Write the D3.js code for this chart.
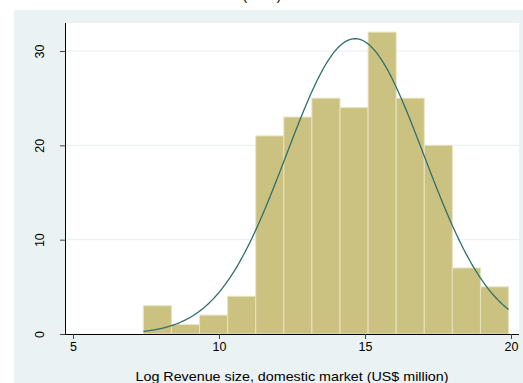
<!DOCTYPE html>
<html>
<head>
<meta charset="utf-8">
<script src="https://cdn.jsdelivr.net/npm/d3@7"></script>
<style>
  html, body { margin: 0; padding: 0; background: #ffffff; }
  svg { display: block; font-family: "Liberation Sans", Arial, sans-serif; }
</style>
</head>
<body>
<svg id="chart" width="523" height="383"></svg>
<script>
// Histogram of log revenue (frequency) with a fitted normal density
const binStart = 7.41;
const binWidth = 0.962;
const counts = [3, 1, 2, 4, 21, 23, 25, 24, 32, 25, 20, 7, 5];
const fitMean = 14.66;
const fitSd = 2.354;
const xTicks = [5, 10, 15, 20];
const yTicks = [0, 10, 20, 30];
const titleText = "(Total)";
const xTitle = "Log Revenue size, domestic market (US$ million)";

const svg = d3.select("#chart");
const W = 523, H = 383;

// graph region
svg.append("rect").attr("x", 14).attr("y", 10).attr("width", W - 14).attr("height", H - 10)
  .attr("fill", "#eaf2f3");
// plot region
const plot = { left: 65, right: 519, top: 23, bottom: 334 };
svg.append("rect").attr("x", plot.left).attr("y", plot.top)
  .attr("width", plot.right - plot.left).attr("height", plot.bottom - plot.top)
  .attr("fill", "#ffffff");

svg.append("text").attr("x", 262).attr("y", 0).attr("text-anchor", "middle")
  .attr("font-size", 14).attr("fill", "#000").text(titleText);

const x = d3.scaleLinear().domain([5, 20]).range([73, 511]);
const y = d3.scaleLinear().domain([0, 30]).range([334, 51]);

// horizontal grid
svg.append("g").selectAll("line").data(yTicks.filter(d => d > 0)).join("line")
  .attr("x1", plot.left).attr("x2", plot.right)
  .attr("y1", d => y(d)).attr("y2", d => y(d))
  .attr("stroke", "#e7eff1").attr("stroke-width", 1);

// bars
const bins = counts.map((c, i) => ({ x0: binStart + i * binWidth, x1: binStart + (i + 1) * binWidth, n: c }));
svg.append("g").selectAll("rect").data(bins).join("rect")
  .attr("x", d => x(d.x0)).attr("width", d => x(d.x1) - x(d.x0))
  .attr("y", d => y(d.n)).attr("height", d => y(0) - y(d.n))
  .attr("fill", "#cbc282").attr("stroke", "#e8e3bf").attr("stroke-width", 1);

// normal density scaled to frequency
const scaleN = d3.sum(counts) * binWidth;
const xEnd = binStart + counts.length * binWidth;
const curvePts = d3.range(0, 301).map(i => {
  const v = binStart + (xEnd - binStart) * i / 300;
  const z = (v - fitMean) / fitSd;
  return [v, scaleN * Math.exp(-0.5 * z * z) / (fitSd * Math.sqrt(2 * Math.PI))];
});
svg.append("path").datum(curvePts)
  .attr("d", d3.line().x(d => x(d[0])).y(d => y(d[1])))
  .attr("fill", "none").attr("stroke", "#2f706c").attr("stroke-width", 1.3);

// y axis
const yAxis = svg.append("g").attr("transform", `translate(${plot.left},0)`)
  .call(d3.axisLeft(y).tickValues(yTicks).tickSize(5).tickSizeOuter(0).tickPadding(3));
yAxis.select(".domain").attr("d", `M0.5,${plot.top}V${plot.bottom}`).attr("stroke", "#000");
yAxis.selectAll(".tick line").attr("stroke", "#444");
yAxis.selectAll(".tick text")
  .attr("font-size", 12.5).attr("fill", "#000")
  .attr("text-anchor", "middle")
  .attr("dy", "0")
  .attr("font-family", "Liberation Sans, Arial, sans-serif")
  .attr("transform", "translate(-21,0) rotate(-90)")
  .attr("x", 0).attr("y", 0);

// x axis
const xAxis = svg.append("g").attr("transform", `translate(0,${plot.bottom})`)
  .call(d3.axisBottom(x).tickValues(xTicks).tickSize(5).tickSizeOuter(0).tickPadding(3));
xAxis.select(".domain").attr("d", `M${plot.left},0.5H${plot.right}`).attr("stroke", "#000");
xAxis.selectAll(".tick line").attr("stroke", "#444");
xAxis.selectAll(".tick text").attr("font-size", 12.5).attr("fill", "#000")
  .attr("font-family", "Liberation Sans, Arial, sans-serif");

svg.append("text").attr("x", (plot.left + plot.right) / 2).attr("y", 380.5)
  .attr("text-anchor", "middle").attr("font-size", 13).attr("fill", "#000")
  .attr("textLength", 313).attr("lengthAdjust", "spacingAndGlyphs")
  .text(xTitle);
</script>
</body>
</html>
